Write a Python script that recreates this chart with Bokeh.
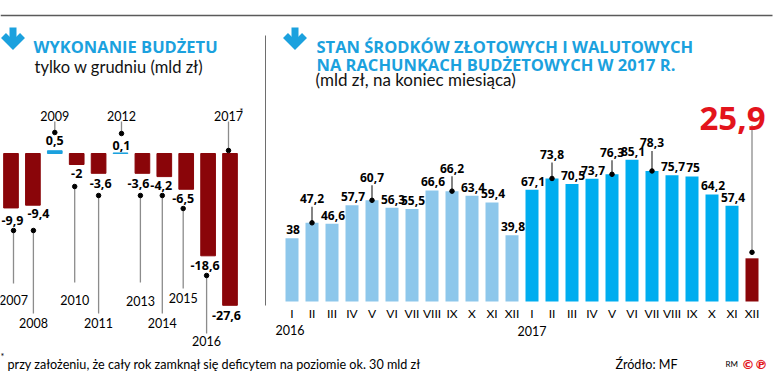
from bokeh.plotting import figure
from bokeh.models import Range1d
from bokeh.core.properties import value
from bokeh.embed import file_html
from bokeh.resources import INLINE

# ---------------- data ----------------
years = ["2007", "2008", "2009", "2010", "2011", "2012", "2013", "2014", "2015", "2016", "2017"]
deficit = [-9.9, -9.4, 0.5, -2.0, -3.6, 0.1, -3.6, -4.2, -6.5, -18.6, -27.6]

months = ["I", "II", "III", "IV", "V", "VI", "VII", "VIII", "IX", "X", "XI", "XII"]
funds_2016 = [38, 47.2, 46.6, 57.7, 60.7, 56.3, 55.5, 66.6, 66.2, 63.4, 59.4, 39.8]
funds_2017 = [67.1, 73.8, 70.5, 73.7, 76.3, 85.1, 78.3, 75.7, 75, 64.2, 57.4, 25.9]
period_labels = ["2016", "2017"]

# ---------------- style / layout ----------------
FONT = "Open Sans"
FONT2 = "Lato"
TITLE_BLUE = "#1BA1DE"
POS_BLUE = "#1BA1DE"
LIGHT_BLUE = "#8DC7EB"
BRIGHT_BLUE = "#00ADEF"
DARK_RED = "#8A0509"
RED = "#E3141C"
GREY = "#8C8C8C"

W, H = 775, 371
X0, X1 = 0, 775       # canvas window in reference pixels (x)
Y_TOP, Y_BOT = 0, 371  # canvas window in reference pixels (y)

# left chart geometry (reference px)
L_C0, L_STEP, L_ZERO, L_PPU = 10.5, 21.9, 153.0, 5.5
# right chart geometry (reference px)
R_C0, R_STEP, R_ZERO, R_PPU = 291.5, 20.0, 301.0, 1.667

p = figure(width=W, height=H, x_range=Range1d(X0, X1), y_range=Range1d(Y_BOT, Y_TOP),
           min_border=0, output_backend="svg", toolbar_location=None,
           x_axis_type=None, y_axis_type=None, outline_line_color=None,
           background_fill_color="white", border_fill_color="white")
p.xgrid.visible = False
p.ygrid.visible = False

p.extra_x_ranges = {
    "ly": Range1d((X0 - L_C0) / L_STEP, (X1 - L_C0) / L_STEP),
    "rm": Range1d((X0 - R_C0) / R_STEP, (X1 - R_C0) / R_STEP),
}
p.extra_y_ranges = {
    "lv": Range1d((L_ZERO - Y_BOT) / L_PPU, (L_ZERO - Y_TOP) / L_PPU),
    "rv": Range1d((R_ZERO - Y_BOT) / R_PPU, (R_ZERO - Y_TOP) / R_PPU),
}


def fmt(v):
    return f"{v:g}".replace(".", ",")


def txt(x, y, t, size="12px", bold=False, color="black", align="center", baseline="middle",
        font=FONT, xr="default", yr="default"):
    p.text(x=x, y=y, text=t, text_font=value(font), text_font_size=size,
           text_font_style="bold" if bold else "normal", text_color=color,
           text_align=align, text_baseline=baseline,
           x_range_name=xr, y_range_name=yr)


# ---------------- frame decorations ----------------
p.segment(x0=[0], y0=[15], x1=[772], y1=[15], line_color="#5A5A5A", line_width=1.5)
p.segment(x0=[265], y0=[35], x1=[265], y1=[305], line_color="#6E6E6E", line_width=1)

# down-arrow icons next to the titles
for ax in (12.5, 294.5):
    p.line(x=[ax, ax], y=[27, 43], line_color=TITLE_BLUE, line_width=7)
    p.line(x=[ax - 9.5, ax, ax + 9.5], y=[35, 44.5, 35], line_color=TITLE_BLUE,
           line_width=7, line_join="miter")

txt([33], [45.5], ["WYKONANIE BUDŻETU"], size="16.5px", bold=True, color=TITLE_BLUE,
    align="left", baseline="alphabetic")
txt([34], [66], ["tylko w grudniu (mld zł)"], size="16.5px", color="#111111",
    align="left", baseline="alphabetic", font=FONT2)
txt([316], [45.5], ["STAN ŚRODKÓW ZŁOTOWYCH I WALUTOWYCH"], size="16.5px", bold=True,
    color=TITLE_BLUE, align="left", baseline="alphabetic")
txt([316], [63.5], ["NA RACHUNKACH BUDŻETOWYCH W 2017 R."], size="16.5px", bold=True,
    color=TITLE_BLUE, align="left", baseline="alphabetic")
txt([315], [79], ["(mld zł, na koniec miesiąca)"], size="17px", color="#111111",
    align="left", baseline="alphabetic", font=FONT2)

# ---------------- left chart ----------------
li = list(range(len(years)))
lcolors = [POS_BLUE if v > 0 else DARK_RED for v in deficit]
p.vbar(x=li, top=deficit, bottom=0, width=0.67, fill_color=lcolors, line_color=lcolors,
       line_width=1, x_range_name="ly", y_range_name="lv")

# value labels (gap in px from bar end, horizontal nudge in px)
lab_gap = [12.5, 8.5, 10, 9, 10, 7.5, 10, 9, 9, 10, 10]
lab_dx = [1.5, 5.5, 0, 0, 2, 1, -4, -3, -3, -3, -3.5]
lab_x = [i + dx / L_STEP for i, dx in zip(li, lab_dx)]
lab_y = [v + (g / L_PPU if v > 0 else -g / L_PPU) for v, g in zip(deficit, lab_gap)]
txt(lab_x, lab_y, [fmt(v) for v in deficit], size="12.5px", bold=True,
    xr="ly", yr="lv")

# leader lines to year labels (reference px on y)
dot_dx = [2.5, 0.5, 0, -2, 0, 1, -2, -2, -3, -1.5, -1.5]
dot_y = [230, 230, 132, 186, 195, 133, 195, 195, 208, 275, 150]
line_end = [283, 313, 121, 282, 313, 121, 282, 313, 288, 333, 121]
year_y = [299, 322, 115, 299, 322, 115, 300, 322, 297, 340, 115]
dx_idx = [i + d / L_STEP for i, d in zip(li, dot_dx)]
p.segment(x0=dx_idx, y0=dot_y, x1=dx_idx, y1=line_end, line_color=GREY, line_width=1.3,
          x_range_name="ly")
p.scatter(x=dx_idx, y=dot_y, size=4.5, color="black", x_range_name="ly")
txt(dx_idx, year_y, years, size="12.5px", font=FONT2, xr="ly")
txt([dx_idx[-1] + 13 / L_STEP], [111], ["*"], size="9px", font=FONT2, xr="ly")

# ---------------- right chart ----------------
funds = funds_2016 + funds_2017
ri = list(range(len(funds)))
rcolors = [LIGHT_BLUE] * len(funds_2016) + [BRIGHT_BLUE] * (len(funds_2017) - 1) + [DARK_RED]
p.vbar(x=ri, top=funds, bottom=0, width=0.65, fill_color=rcolors, line_color=None,
       x_range_name="rm", y_range_name="rv")

raised = {1: 24, 4: 23, 8: 23, 13: 24, 16: 22, 18: 28}
normal_i = [i for i in ri[:-1] if i not in raised]
txt([i + 0.05 for i in normal_i], [funds[i] + 8.5 / R_PPU for i in normal_i],
    [fmt(funds[i]) for i in normal_i], size="12px", bold=True, xr="rm", yr="rv")
ri_r = sorted(raised)
txt(ri_r, [funds[i] + raised[i] / R_PPU for i in ri_r], [fmt(funds[i]) for i in ri_r],
    size="12px", bold=True, xr="rm", yr="rv")
p.segment(x0=ri_r, y0=[funds[i] + (raised[i] - 8) / R_PPU for i in ri_r],
          x1=ri_r, y1=[funds[i] for i in ri_r], line_color="#333333", line_width=1.2,
          x_range_name="rm", y_range_name="rv")
p.scatter(x=ri_r, y=[funds[i] for i in ri_r], size=4.5, color="black",
          x_range_name="rm", y_range_name="rv")

# last month highlighted
last = ri[-1]
p.segment(x0=[last], y0=[funds[-1] + 6 / R_PPU], x1=[last], y1=[funds[-1] + 133 / R_PPU],
          line_color=GREY, line_width=1.3, x_range_name="rm", y_range_name="rv")
p.scatter(x=[last], y=[funds[-1] + 6 / R_PPU], size=4.5, color="black",
          x_range_name="rm", y_range_name="rv")
txt([last - 19.5 / R_STEP], [118], [fmt(funds[-1])], size="33px", bold=True, color=RED,
    baseline="alphabetic", xr="rm")

# month axis labels
txt(ri, [313] * len(ri), months + months, size="12px", font=FONT2, xr="rm")
txt([-0.1, 12], [329, 330], period_labels, size="12.5px", font=FONT2, xr="rm")

# ---------------- footer ----------------
txt([2], [356], ["*"], size="9px", font=FONT2, align="center")
txt([7], [364], ["przy założeniu, że cały rok zamknął się deficytem  na poziomie ok. 30 mld zł"],
    size="12.6px", font=FONT2, align="left", baseline="alphabetic")
txt([615], [364], ["Źródło: MF"], size="12.6px", font=FONT2, align="left", baseline="alphabetic")
txt([725], [363], ["RM"], size="8px", font=FONT2, align="left", baseline="alphabetic")
txt([741], [364], ["©℗"], size="13px", bold=True, color=RED, align="left",
    baseline="alphabetic", font="DejaVu Sans")

open("out.html", "w").write(file_html(p, INLINE))
